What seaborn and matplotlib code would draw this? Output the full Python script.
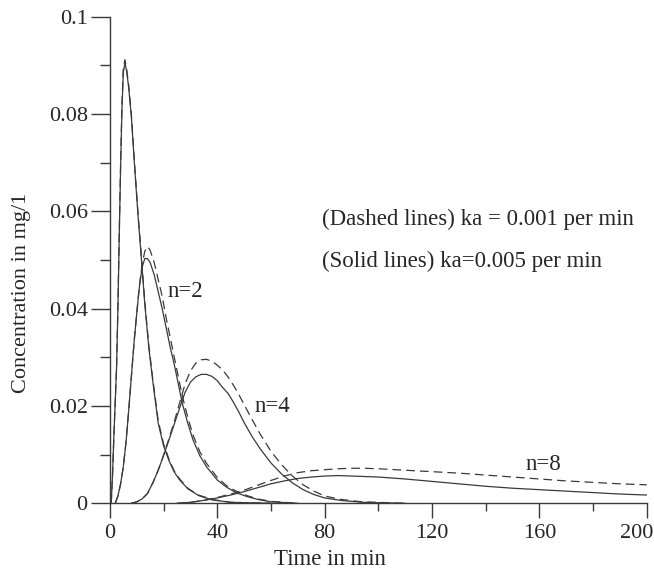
import numpy as np
import pandas as pd
import seaborn as sns
import matplotlib.pyplot as plt
from matplotlib.ticker import MultipleLocator
from matplotlib.transforms import ScaledTranslation

# curbe (timp in min, concentratie in mg/l)
t_n1 = [0.5, 1.0, 1.5, 2.0, 2.5, 3.0, 3.5, 4.0, 4.5, 5.0, 5.6, 6.2, 7.0, 8.0, 9.3, 10.5,
        11.5, 13.0, 14.5, 16.0, 18.0, 20.0, 22.0, 24.0, 26.0, 29.0, 33.0, 38.0, 45.0, 60.0]
c1_solid = [0, 0.006, 0.014, 0.021, 0.028, 0.040, 0.055, 0.069, 0.081, 0.0885, 0.0905, 0.089,
            0.0855, 0.0795, 0.0685, 0.059, 0.052, 0.041, 0.032, 0.025, 0.0165, 0.0118, 0.0088,
            0.0064, 0.0048, 0.0030, 0.0016, 0.0007, 0.0002, 0]
c1_dash = [0, 0.006, 0.014, 0.021, 0.028, 0.041, 0.056, 0.070, 0.082, 0.0895, 0.0912, 0.0895,
           0.086, 0.080, 0.069, 0.0595, 0.0525, 0.0415, 0.0325, 0.0255, 0.017, 0.0122, 0.0091,
           0.0066, 0.0050, 0.0031, 0.0017, 0.0008, 0.0002, 0]

t_n2 = [2, 3, 4, 5, 6, 7, 8, 9, 10, 11, 12, 13, 14, 15, 16.5, 18, 19.5, 21, 22.5, 24, 25.5,
        27, 29, 31, 33.5, 36, 40, 43.5, 47, 51, 55, 60, 70]
c2_solid = [0, 0.0015, 0.004, 0.0075, 0.0125, 0.019, 0.026, 0.033, 0.039, 0.0445, 0.0485,
            0.0503, 0.0503, 0.0495, 0.047, 0.0435, 0.040, 0.036, 0.032, 0.0285, 0.0245, 0.0205,
            0.0165, 0.013, 0.0098, 0.0075, 0.0048, 0.0033, 0.0022, 0.0014, 0.0008, 0.0003, 0]
c2_dash = [0, 0.0015, 0.004, 0.0075, 0.0125, 0.019, 0.026, 0.033, 0.039, 0.0448, 0.049,
           0.0518, 0.0528, 0.052, 0.0495, 0.046, 0.0425, 0.038, 0.034, 0.030, 0.026, 0.022,
           0.0177, 0.014, 0.0106, 0.0082, 0.0053, 0.0036, 0.0025, 0.0016, 0.0009, 0.0004, 0]

t_n4 = [8, 10, 12, 14, 16, 18, 20, 22, 24, 26, 28, 30, 32, 34, 36, 38, 40, 42, 44, 46, 48,
        50, 53, 56, 60, 64, 68, 72, 76, 80, 86, 94, 110]
c4_solid = [0, 0.0003, 0.0009, 0.002, 0.0042, 0.0068, 0.0098, 0.013, 0.0163, 0.0196, 0.0228,
            0.0249, 0.026, 0.0265, 0.0265, 0.0261, 0.0252, 0.0238, 0.0226, 0.0208, 0.0188,
            0.0166, 0.0137, 0.0112, 0.0083, 0.006, 0.0042, 0.0028, 0.0018, 0.0011, 0.0006,
            0.0002, 0]
c4_dash = [0, 0.0003, 0.0009, 0.002, 0.0042, 0.0068, 0.0099, 0.0133, 0.0168, 0.0207, 0.0245,
           0.0272, 0.0288, 0.0295, 0.0296, 0.0292, 0.0284, 0.0274, 0.026, 0.0243, 0.0224,
           0.0203, 0.0172, 0.0142, 0.0107, 0.0079, 0.0056, 0.0038, 0.0025, 0.0015, 0.0008,
           0.0003, 0]

t_n8 = [25, 30, 35, 40, 45, 50, 55, 60, 65, 70, 75, 80, 85, 90, 95, 100, 110, 120, 130, 140,
        150, 160, 170, 180, 190, 200]
c8_solid = [0, 0.0002, 0.0006, 0.0011, 0.0017, 0.0024, 0.0032, 0.0040, 0.0046, 0.0051, 0.0054,
            0.0056, 0.0057, 0.0056, 0.0055, 0.0054, 0.0050, 0.0045, 0.0040, 0.0035, 0.0031,
            0.0028, 0.0025, 0.0022, 0.0019, 0.0017]
c8_dash = [0, 0.0002, 0.0006, 0.0012, 0.0019, 0.0027, 0.0037, 0.0047, 0.0056, 0.0063, 0.0067,
           0.0069, 0.0071, 0.0072, 0.0072, 0.0071, 0.0068, 0.0065, 0.0062, 0.0058, 0.0054,
           0.0050, 0.0046, 0.0043, 0.0040, 0.0038]

x_ticks = [0, 40, 80, 120, 160, 200]
y_ticks = [0, 0.02, 0.04, 0.06, 0.08, 0.1]
y_tick_labels = ['0', '0.02', '0.04', '0.06', '0.08', '0.1']

# tabel lung: o curba = (n, ka)
frames = []
for n, t, c_s, c_d in [(1, t_n1, c1_solid, c1_dash), (2, t_n2, c2_solid, c2_dash),
                       (4, t_n4, c4_solid, c4_dash), (8, t_n8, c8_solid, c8_dash)]:
    frames.append(pd.DataFrame({'t': t, 'conc': c_s, 'ka': '0.005', 'curve': f'{n}_s'}))
    frames.append(pd.DataFrame({'t': t, 'conc': c_d, 'ka': '0.001', 'curve': f'{n}_d'}))
df = pd.concat(frames, ignore_index=True)

sns.set_style('ticks')
plt.rcParams['font.family'] = ['Liberation Serif', 'DejaVu Serif']

fig = plt.figure(figsize=(6.54, 5.75), dpi=100)
ax = fig.add_axes([0.168, 0.1247, 0.821, 0.846])

line_col = '#3a3a3a'
sns.lineplot(data=df, x='t', y='conc', units='curve', estimator=None, style='ka',
             dashes={'0.005': '', '0.001': (7, 4)}, color=line_col, linewidth=0.9,
             legend=False, ax=ax)

ax.set_xlim(0, 200)
ax.set_ylim(0, 0.1)
ax.set_xticks(x_ticks)
ax.set_yticks(y_ticks)
ax.set_yticklabels(y_tick_labels)
ax.xaxis.set_minor_locator(MultipleLocator(20))
ax.yaxis.set_minor_locator(MultipleLocator(0.01))
ax.tick_params(axis='y', which='major', length=14, width=1, color=line_col, labelsize=16, pad=2)
ax.tick_params(axis='y', which='minor', length=7, width=1, color=line_col)
ax.tick_params(axis='x', which='major', length=11, width=1, color=line_col, labelsize=16, pad=4)
ax.tick_params(axis='x', which='minor', length=6, width=1, color=line_col)
for side in ['left', 'bottom']:
    ax.spines[side].set_color(line_col)
    ax.spines[side].set_linewidth(1)
sns.despine(ax=ax)

# ultima eticheta (200) lipita de marginea imaginii
last = ax.get_xticklabels()[-1]
last.set_horizontalalignment('right')
last.set_transform(last.get_transform() + ScaledTranslation(0.07, 0, fig.dpi_scale_trans))

ax.set_xlabel('Time in min', fontsize=16.5)
ax.xaxis.set_label_coords(0.41, -0.1165)
ax.xaxis.label.set_va('center')
ax.set_ylabel('Concentration in mg/1', fontsize=16)
ax.yaxis.set_label_coords(-0.1645, 0.432)
ax.yaxis.label.set_va('center')

ax.text(78.9, 0.0572, '(Dashed lines) ka = 0.001 per min', fontsize=16.5, va='baseline')
ax.text(78.9, 0.0486, '(Solid lines) ka=0.005 per min', fontsize=16.5, va='baseline')
ax.text(21.6, 0.0435, 'n=2', fontsize=16.5, va='center')
ax.text(54, 0.0199, 'n=4', fontsize=16.5, va='center')
ax.text(154.7, 0.0079, 'n=8', fontsize=16.5, va='center')

fig.savefig('out.png', dpi=100)
